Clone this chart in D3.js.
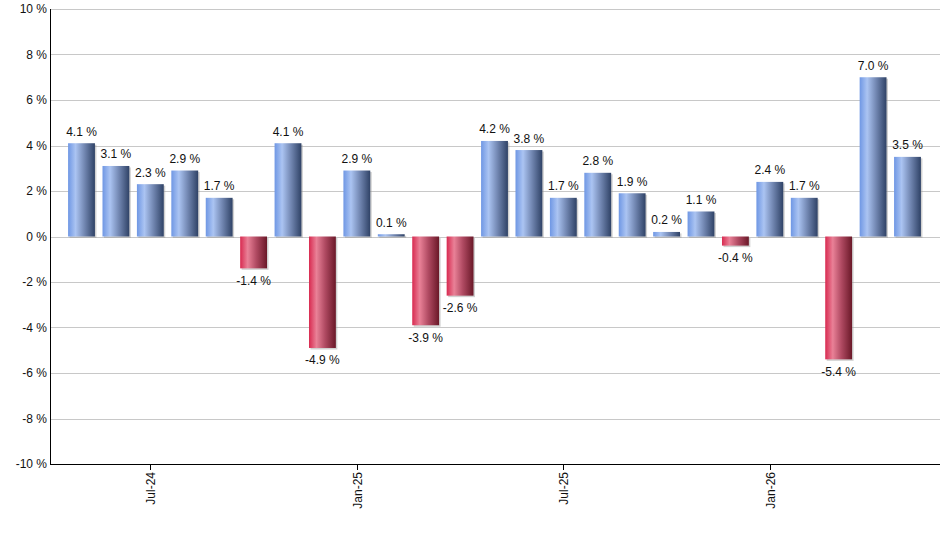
<!DOCTYPE html>
<html>
<head>
<meta charset="utf-8">
<script src="https://cdn.jsdelivr.net/npm/d3@7"></script>
<style>
  html, body { margin: 0; padding: 0; background: #fff; }
  text { font-family: Arial, "Liberation Sans", sans-serif; }
</style>
</head>
<body>
<svg id="chart" width="940" height="550"></svg>
<script>
const months = ["May-24","Jun-24","Jul-24","Aug-24","Sep-24","Oct-24","Nov-24","Dec-24",
  "Jan-25","Feb-25","Mar-25","Apr-25","May-25","Jun-25","Jul-25","Aug-25","Sep-25",
  "Oct-25","Nov-25","Dec-25","Jan-26","Feb-26","Mar-26","Apr-26","May-26"];
const values = [4.1, 3.1, 2.3, 2.9, 1.7, -1.4, 4.1, -4.9, 2.9, 0.1, -3.9, -2.6,
  4.2, 3.8, 1.7, 2.8, 1.9, 0.2, 1.1, -0.4, 2.4, 1.7, -5.4, 7.0, 3.5];
const xTickLabels = ["Jul-24", "Jan-25", "Jul-25", "Jan-26"];
const yTicks = [-10, -8, -6, -4, -2, 0, 2, 4, 6, 8, 10];

const svg = d3.select("#chart");
const plotLeft = 50, plotRight = 940, plotTop = 9, plotBottom = 464;

const x = d3.scaleBand().domain(months).range([64.3, 924.7]).paddingInner(0.22).paddingOuter(0.11);
const y = d3.scaleLinear().domain([-10, 10]).range([plotBottom, plotTop]);

const defs = svg.append("defs");
function grad(id, stops) {
  const g = defs.append("linearGradient").attr("id", id)
    .attr("x1", "0%").attr("x2", "100%").attr("y1", "0%").attr("y2", "0%");
  stops.forEach(s => g.append("stop").attr("offset", s[0]).attr("stop-color", s[1]));
}
grad("gBlue", [[0, "#6f97e4"], [0.28, "#abc4f2"], [0.6, "#7489b4"], [1, "#2f4266"]]);
grad("gRed", [[0, "#d82a50"], [0.28, "#e98197"], [0.6, "#b04a62"], [1, "#6a1828"]]);

// gridlines
svg.append("g").selectAll("line").data(yTicks).join("line")
  .attr("x1", plotLeft).attr("x2", plotRight)
  .attr("y1", d => Math.round(y(d)) + 0.5).attr("y2", d => Math.round(y(d)) + 0.5)
  .attr("stroke", "#c8c8c8").attr("stroke-width", 1);

// y labels
svg.append("g").selectAll("text").data(yTicks).join("text")
  .attr("x", 47).attr("y", d => y(d) + 4)
  .attr("text-anchor", "end").attr("font-size", 12).attr("fill", "#111")
  .text(d => d + " %");

// bar shadows
const bars = svg.append("g");
bars.selectAll("rect.sh").data(values).join("rect").attr("class", "sh")
  .attr("x", (d, i) => x(months[i]) + 1.5)
  .attr("y", d => Math.min(y(d), y(0)) + 1.5)
  .attr("width", x.bandwidth())
  .attr("height", d => Math.abs(y(d) - y(0)))
  .attr("fill", "#999").attr("opacity", 0.45);
bars.selectAll("rect.b").data(values).join("rect").attr("class", "b")
  .attr("x", (d, i) => x(months[i]))
  .attr("y", d => Math.min(y(d), y(0)))
  .attr("width", x.bandwidth())
  .attr("height", d => Math.abs(y(d) - y(0)))
  .attr("fill", d => d >= 0 ? "url(#gBlue)" : "url(#gRed)");

// value labels
svg.append("g").selectAll("text").data(values).join("text")
  .attr("x", (d, i) => x(months[i]) + x.bandwidth() / 2)
  .attr("y", d => d >= 0 ? y(d) - 7.5 : y(d) + 16.5)
  .attr("text-anchor", "middle").attr("font-size", 12).attr("fill", "#111")
  .text(d => d.toFixed(1) + " %");

// axes lines
svg.append("line").attr("x1", plotLeft + 0.5).attr("x2", plotLeft + 0.5)
  .attr("y1", plotTop).attr("y2", plotBottom + 1).attr("stroke", "#000");
svg.append("line").attr("x1", plotLeft).attr("x2", plotRight)
  .attr("y1", plotBottom + 0.5).attr("y2", plotBottom + 0.5).attr("stroke", "#000");

// x ticks and labels
const xt = svg.append("g").selectAll("g").data(xTickLabels).join("g")
  .attr("transform", d => `translate(${Math.round(x(d) + x.bandwidth() / 2) + 0.5},${plotBottom})`);
xt.append("line").attr("y1", 0).attr("y2", 6).attr("stroke", "#000");
xt.append("text").attr("transform", "rotate(-90)")
  .attr("x", -8).attr("y", 4).attr("text-anchor", "end")
  .attr("font-size", 12).attr("fill", "#111").text(d => d);
</script>
</body>
</html>
